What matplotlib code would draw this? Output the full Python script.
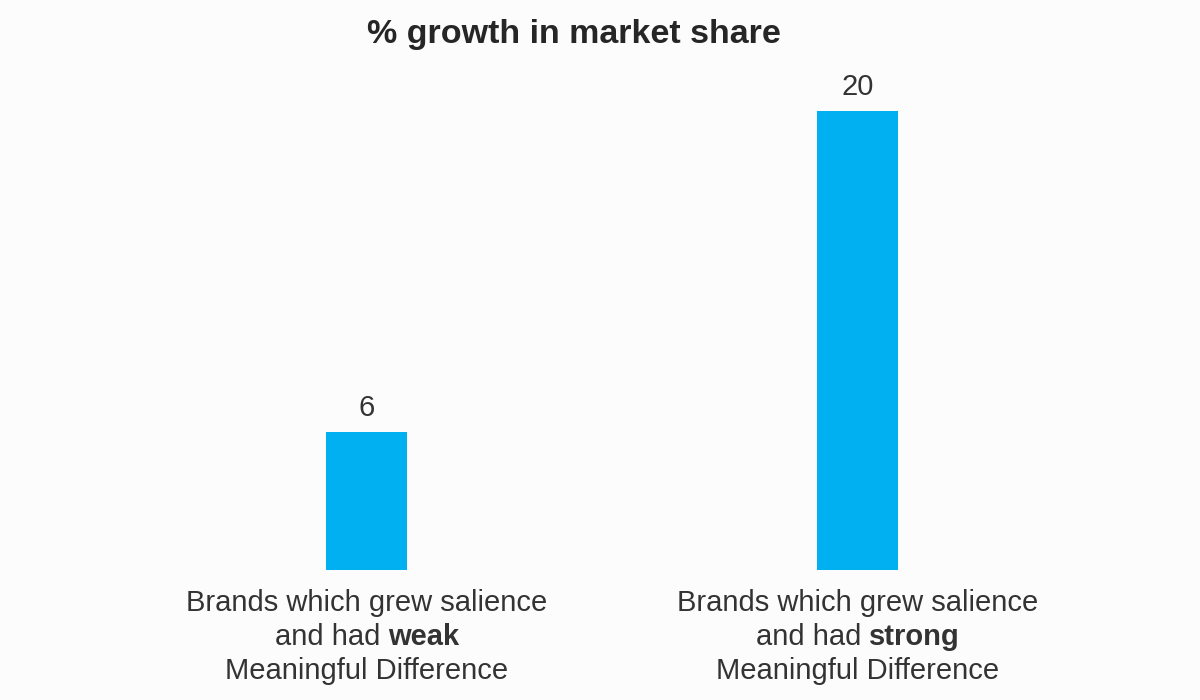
import matplotlib
matplotlib.use("Agg")
import matplotlib.pyplot as plt

# Veriler
line1 = ["Brands which grew salience", "Brands which grew salience"]
line2_pre = ["and had", "and had"]
line2_bold = ["weak", "strong"]
line3 = ["Meaningful Difference", "Meaningful Difference"]
values = [6, 20]
title = "% growth in market share"

plt.rcParams["font.family"] = ["Liberation Sans", "DejaVu Sans"]

bg = "#fcfcfd"
txt = "#333333"
fs = 21
dpi = 100
fig = plt.figure(figsize=(12, 7), dpi=dpi, facecolor=bg)
ax = fig.add_axes([0.10125, 0.1857, 0.818, 0.6557])
ax.set_facecolor(bg)

x = list(range(len(values)))
bars = ax.bar(x, values, width=0.165, color="#00b0f0")

ax.set_xlim(-0.5, 1.5)
ax.set_ylim(0, 20)
ax.set_xticks([])
ax.set_yticks([])
for s in ax.spines.values():
    s.set_visible(False)

# Değer etiketleri
for xi, v in zip(x, values):
    ax.annotate(f"{v}", xy=(xi, v), xytext=(0, 11.5), textcoords="offset points",
                ha="center", va="baseline", fontsize=fs, color=txt)

renderer = fig.canvas.get_renderer()


def width_pt(s, weight="normal"):
    t = fig.text(0, 0, s, fontsize=fs, fontweight=weight)
    w = t.get_window_extent(renderer).width
    t.remove()
    return w * 72 / dpi


space = width_pt("a a") - width_pt("aa")

# Kategori etiketleri (ortadaki satırda kalın kelime)
for xi, a, pre, b, c in zip(x, line1, line2_pre, line2_bold, line3):
    kw = dict(xy=(xi, 0), xycoords=("data", "axes fraction"),
              textcoords="offset points", fontsize=fs, color=txt, va="baseline")
    ax.annotate(a, xytext=(0, -29.5), ha="center", **kw)
    ax.annotate(c, xytext=(0, -78.5), ha="center", **kw)
    w_pre = width_pt(pre)
    w_b = width_pt(b, "bold")
    total = w_pre + space + w_b
    ax.annotate(pre, xytext=(-total / 2, -54), ha="left", **kw)
    ax.annotate(b, xytext=(-total / 2 + w_pre + space, -54), ha="left",
                fontweight="bold", **kw)

fig.text(0.478, 0.9386, title, ha="center", va="baseline", fontsize=24.5,
         fontweight="bold", color="#262626")

fig.savefig("out.png", dpi=dpi, facecolor=bg)
